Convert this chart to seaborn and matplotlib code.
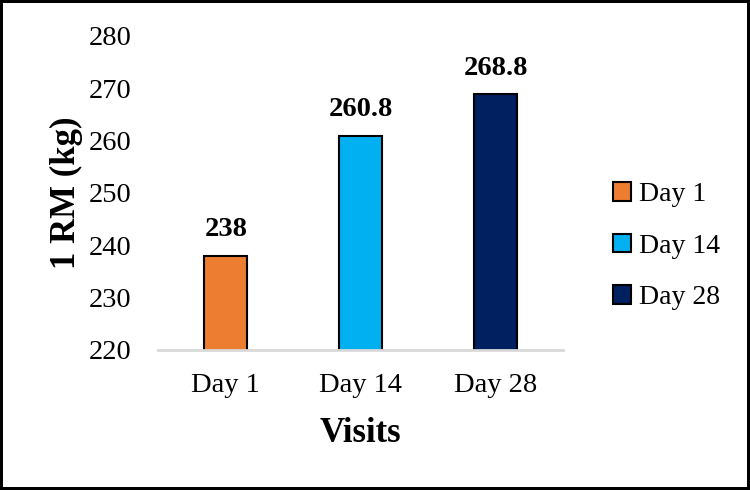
import matplotlib
matplotlib.use("Agg")
import matplotlib.pyplot as plt
import seaborn as sns
import pandas as pd

categories = ["Day 1", "Day 14", "Day 28"]
values = [238, 260.8, 268.8]
labels = ["238", "260.8", "268.8"]
colors = ["#ED7D31", "#00B0F0", "#002060"]
yticks = [220, 230, 240, 250, 260, 270, 280]

sns.set_theme(style="white")
plt.rcParams["font.family"] = ["Liberation Serif", "DejaVu Serif"]
plt.rcParams["text.color"] = "black"
plt.rcParams["axes.labelcolor"] = "black"
plt.rcParams["xtick.color"] = "black"
plt.rcParams["ytick.color"] = "black"

df = pd.DataFrame({"Visit": categories, "RM": values})

fig = plt.figure(figsize=(7.5, 4.9), dpi=100, linewidth=3, edgecolor="black")
ax = fig.add_axes([0.211, 0.286, 0.54, 0.641])

sns.barplot(data=df, x="Visit", y="RM", hue="Visit", palette=colors,
            hue_order=categories, order=categories, dodge=False, width=0.32,
            saturation=1, edgecolor="black", linewidth=1.5, ax=ax, legend=True)

ax.set_ylim(220, 280)
ax.set_yticks(yticks)
ax.set_yticklabels([str(t) for t in yticks], fontsize=20.5)
ax.tick_params(axis="x", labelsize=20.5, pad=17, length=0, colors="black")
ax.tick_params(axis="y", length=0, pad=19, colors="black")
for s in ["top", "right", "left"]:
    ax.spines[s].set_visible(False)
ax.spines["bottom"].set_color("#D9D9D9")
ax.spines["bottom"].set_linewidth(2)

for i, (v, lab) in enumerate(zip(values, labels)):
    ax.annotate(lab, xy=(i, v), xytext=(0, 10), textcoords="offset points",
                ha="center", va="bottom", fontsize=20.5, fontweight="bold",
                color="black")

ax.set_xlabel("Visits", fontsize=25, fontweight="bold", labelpad=13, color="black")
ax.set_ylabel("1 RM (kg)", fontsize=25, fontweight="bold", labelpad=4, color="black")

handles, lbls = ax.get_legend_handles_labels()
leg = ax.legend(handles, lbls, loc="center left", bbox_to_anchor=(1.06, 0.33),
                frameon=False, fontsize=20, handlelength=0.65, handleheight=0.65,
                handletextpad=0.3, labelspacing=0.95)
for t in leg.get_texts():
    t.set_color("black")

fig.savefig("out.png", dpi=100, edgecolor=fig.get_edgecolor())
